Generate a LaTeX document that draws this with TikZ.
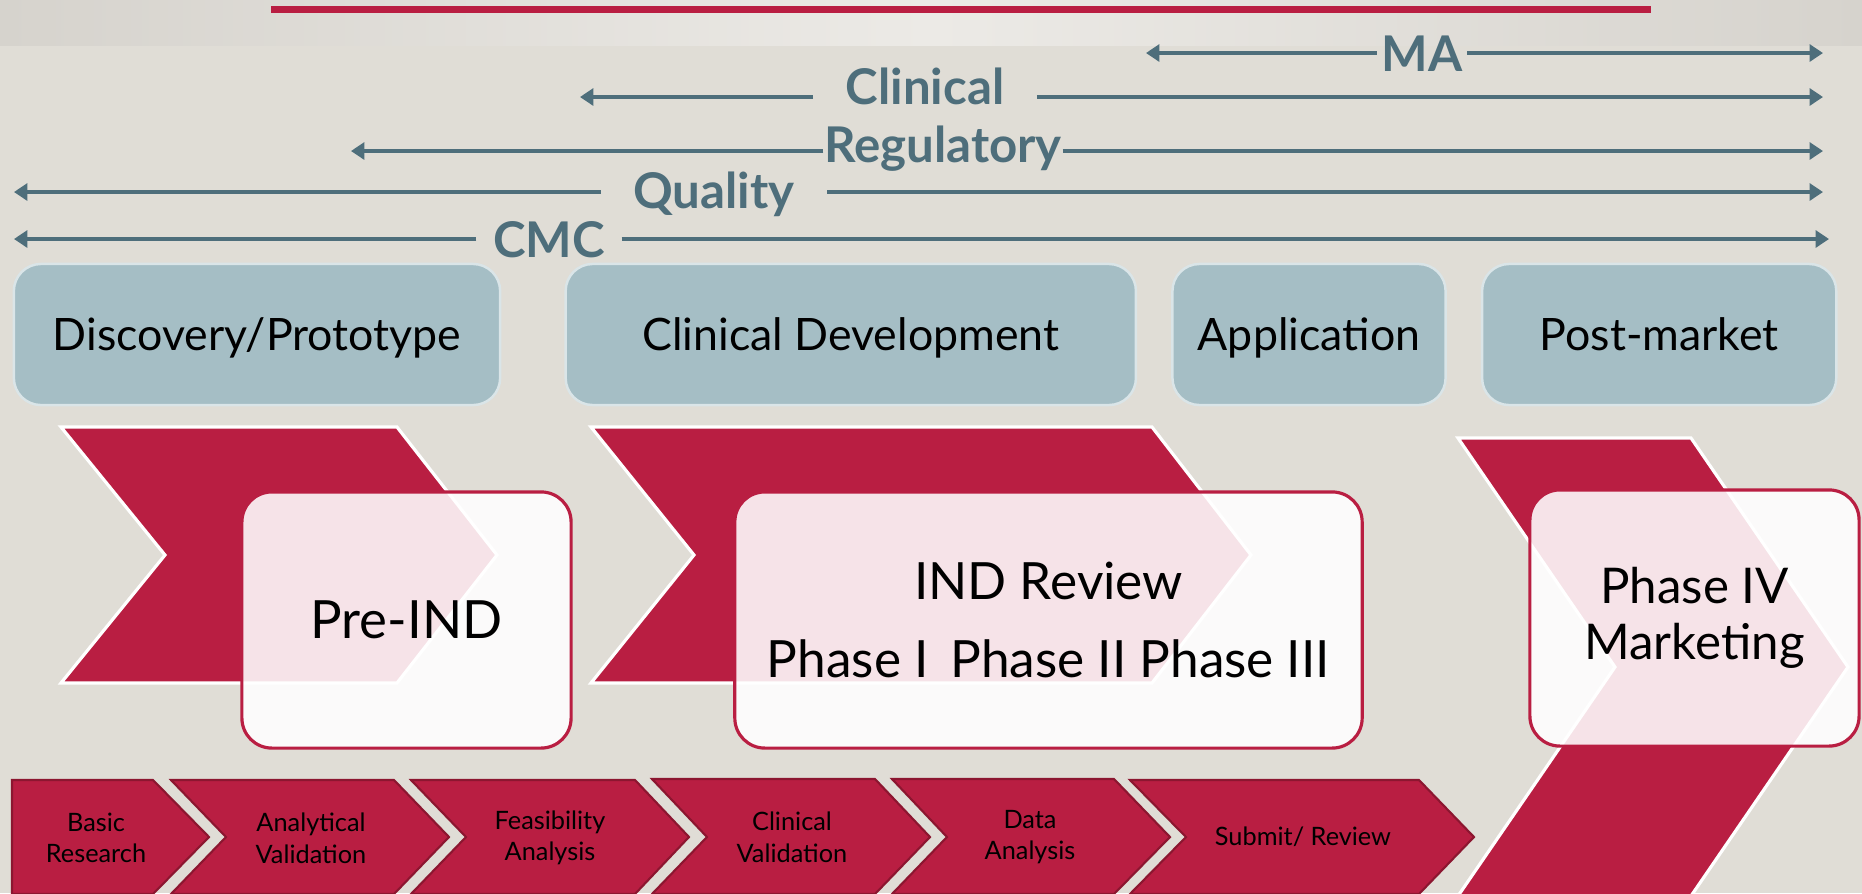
\documentclass[tikz,border=0pt]{standalone}
\usepackage{fontspec}
\setmainfont{Lato}
\usetikzlibrary{arrows.meta, positioning}
\definecolor{pagegray}{RGB}{224,221,214}
\definecolor{bandlight}{RGB}{236,234,230}
\definecolor{banddark}{RGB}{214,211,205}
\definecolor{brandred}{RGB}{185,30,66}
\definecolor{darkred}{RGB}{140,22,48}
\definecolor{slateblue}{RGB}{78,110,123}
\definecolor{stageblue}{RGB}{165,190,197}
\definecolor{stageedge}{RGB}{218,229,232}

\begin{document}
\begin{tikzpicture}[
    x=0.01cm, y=-0.01cm,
    spanline/.style={draw=slateblue, line width=1pt, -{Triangle[length=3.8pt,width=4.8pt]}},
    spanlabel/.style={text=slateblue, font=\fontsize{14}{16}\selectfont\bfseries,
                      anchor=base, inner sep=0pt},
    stage/.style={rectangle, rounded corners=0.27cm, fill=stageblue, draw=stageedge,
                  line width=0.7pt, minimum height=1.41cm, text depth=0.05em,
                  font=\fontsize{12.7}{15}\selectfont},
    chevron/.style={fill=brandred, draw=white, line width=0.9pt},
    milestone/.style={rectangle, rounded corners=0.3cm, fill=white, fill opacity=0.88,
                      text opacity=1, draw=brandred, line width=0.9pt, minimum height=2.56cm,
                      align=center, font=\fontsize{14.6}{18}\selectfont},
    task/.style={fill=brandred, draw=darkred, line width=0.6pt},
    tasklabel/.style={align=center, font=\fontsize{7.2}{9}\selectfont}
]
\useasboundingbox (0,0) rectangle (1862,893);

% Background and title band
\fill [pagegray] (0,0) rectangle (1862,893);
\shade [left color=banddark, right color=banddark, middle color=bandlight] (0,0) rectangle (1862,45);
\fill [brandred] (271,6) rectangle (1651,13);

% Functional spans
\coordinate (ma-w) at (1146,53);
\coordinate (ma-e) at (1823,53);
\node (ma) [spanlabel, inner xsep=0.04cm] at (1422,71) {MA};
\draw [spanline] (ma-w -| ma.west) -- (ma-w);
\draw [spanline] (ma-e -| ma.east) -- (ma-e);

\coordinate (clin-w) at (580,97);
\coordinate (clin-e) at (1823,97);
\node (clin) [spanlabel, inner xsep=0.32cm] at (925,104) {Clinical};
\draw [spanline] (clin-w -| clin.west) -- (clin-w);
\draw [spanline] (clin-e -| clin.east) -- (clin-e);

\coordinate (reg-w) at (351,151);
\coordinate (reg-e) at (1823,151);
\node (reg) [spanlabel] at (943,162) {Regulatory};
\draw [spanline] (reg-w -| reg.west) -- (reg-w);
\draw [spanline] (reg-e -| reg.east) -- (reg-e);

\coordinate (qual-w) at (14,192);
\coordinate (qual-e) at (1823,192);
\node (qual) [spanlabel, inner xsep=0.32cm] at (714,208) {Quality};
\draw [spanline] (qual-w -| qual.west) -- (qual-w);
\draw [spanline] (qual-e -| qual.east) -- (qual-e);

\coordinate (cmc-w) at (14,239);
\coordinate (cmc-e) at (1829,239);
\node (cmc) [spanlabel, inner xsep=0.16cm] at (549,257) {CMC};
\draw [spanline] (cmc-w -| cmc.west) -- (cmc-w);
\draw [spanline] (cmc-e -| cmc.east) -- (cmc-e);

% Stages
\node (disc) [stage, minimum width=4.86cm] at (257,334.5) {Discovery/Prototype};
\node (cdev) [stage, minimum width=5.70cm, right=0.63cm of disc] {Clinical Development};
\node (appl) [stage, minimum width=2.73cm, right=0.34cm of cdev] {Application};
\node (post) [stage, minimum width=3.54cm, right=0.34cm of appl] {Post-market};

% Large chevrons
\draw [chevron] (61,427) -- (397,427) -- (497,555) -- (397,683) -- (61,683) -- (165,555) -- cycle;
\draw [chevron] (591,427) -- (1152,427) -- (1251,555) -- (1152,683) -- (591,683) -- (694,555) -- cycle;
\draw [chevron] (1458,438) -- (1691,438) -- (1848,667) -- (1691,896) -- (1458,896) -- (1615,667) -- cycle;

% Milestones
\node (preind) [milestone, minimum width=3.29cm, font=\fontsize{15}{18}\selectfont]
    at (406.5,620) {Pre-IND};
\node (indrev) [milestone, minimum width=6.27cm] at (1048.5,620)
    {IND Review\\[4pt]Phase I\, Phase II Phase III};
\node (phase4) [milestone, minimum width=3.29cm, font=\fontsize{14}{16}\selectfont]
    at (1694.5,618) {Phase IV\\Marketing};

% Process steps
\draw [task] (12,780) -- (153,780) -- (209,837) -- (153,894) -- (12,894) -- cycle;
\node (basic) [tasklabel] at (96,838) {Basic\\Research};
\draw [task] (171,780) -- (394,780) -- (449,837) -- (394,894) -- (171,894) -- (226,837) -- cycle;
\node (analyt) [tasklabel] at (311,838) {Analytical\\Validation};
\draw [task] (411,780) -- (635,780) -- (689,837) -- (635,894) -- (411,894) -- (466,837) -- cycle;
\node (feas) [tasklabel] at (550,838) {Feasibility\\Analysis};
\draw [task] (652,779) -- (875,779) -- (930,837) -- (875,894) -- (652,894) -- (707,837) -- cycle;
\node (clinval) [tasklabel] at (792,837) {Clinical\\Validation};
\draw [task] (892,779) -- (1114,779) -- (1170,837) -- (1114,894) -- (892,894) -- (947,837) -- cycle;
\node (data) [tasklabel] at (1030,837) {Data\\Analysis};
\draw [task] (1130,780) -- (1419,780) -- (1474,837) -- (1419,894) -- (1130,894) -- (1186,837) -- cycle;
\node (submit) [tasklabel] at (1303,837) {Submit/ Review};

\end{tikzpicture}
\end{document}
